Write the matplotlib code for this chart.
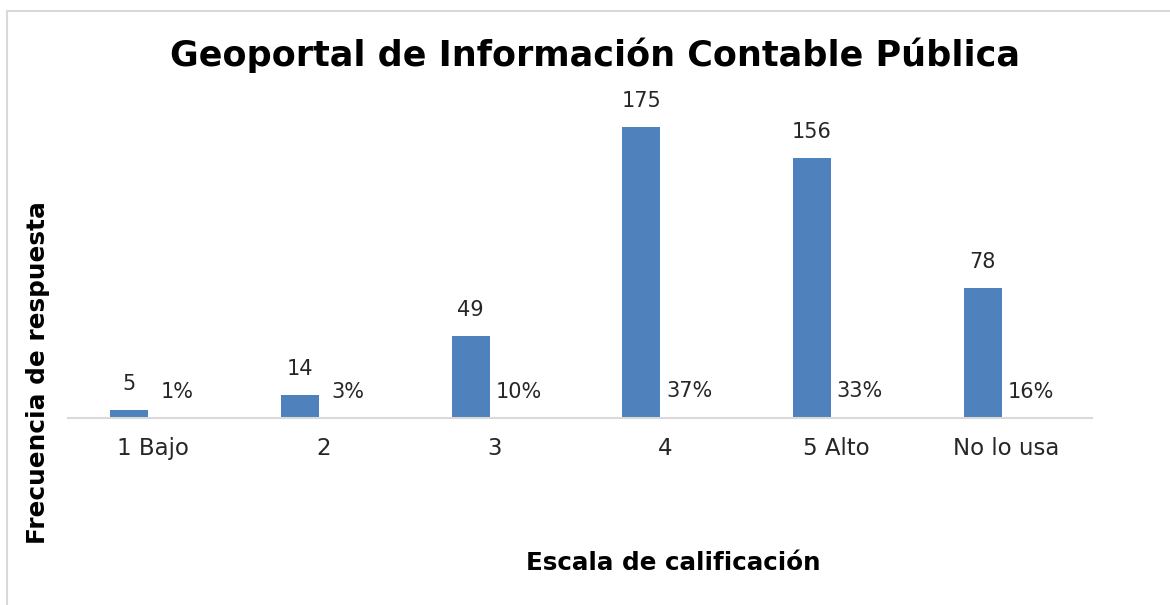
import matplotlib
matplotlib.use('Agg')
import matplotlib.pyplot as plt
from matplotlib.patches import Rectangle
import numpy as np

# chart data
categorias = ['1 Bajo', '2', '3', '4', '5 Alto', 'No lo usa']
frecuencia = [5, 14, 49, 175, 156, 78]
porcentaje = [0.01, 0.03, 0.10, 0.37, 0.33, 0.16]

titulo = 'Geoportal de Información Contable Pública'
etiqueta_x = 'Escala de calificación'
etiqueta_y = 'Frecuencia de respuesta'

plt.rcParams['font.family'] = ['DejaVu Sans']

W, H = 1170, 605
fig = plt.figure(figsize=(W / 100, H / 100), dpi=100)

# outer chart frame
fig.patches.append(Rectangle((7 / W, -0.1), 1.2, (H - 11) / H + 0.1, transform=fig.transFigure,
                             fill=False, edgecolor='#d9d9d9', linewidth=1.5))

# plot area placed in pixels
left, right, bottom_px, top_px = 68, 1092, 418, 85
ax = fig.add_axes([left / W, (H - bottom_px) / H, (right - left) / W, (bottom_px - top_px) / H])

x = np.arange(len(categorias))
ancho = 0.223
desp = 0.14
color = '#4f81bd'

ax.bar(x - desp, frecuencia, width=ancho, color=color, zorder=2)
ax.bar(x + desp, porcentaje, width=ancho, color=color, zorder=2)

for xi, v in zip(x - desp, frecuencia):
    ax.annotate(f'{v}', xy=(xi, v), xytext=(0, 26), textcoords='offset pixels',
                ha='center', va='center', fontsize=15, color='#262626')
for xi, v in zip(x + desp, porcentaje):
    ax.annotate(f'{v:.0%}', xy=(xi, v), xytext=(0, 26), textcoords='offset pixels',
                ha='center', va='center', fontsize=15, color='#262626')

ax.set_xlim(-0.5, len(categorias) - 0.5)
ax.set_ylim(0, 200)
ax.set_xticks(x)
ax.set_xticklabels(categorias, fontsize=16.5, color='#262626')
ax.tick_params(axis='x', length=0, pad=14)
ax.set_yticks([])
for s in ['top', 'right', 'left']:
    ax.spines[s].set_visible(False)
ax.spines['bottom'].set_color('#d9d9d9')
ax.spines['bottom'].set_linewidth(1.5)

fig.text(595 / W, 1 - 55 / H, titulo, ha='center', va='center', fontsize=25.2, fontweight='bold')
fig.text(673 / W, 1 - 563 / H, etiqueta_x, ha='center', va='center', fontsize=17.7, fontweight='bold')
fig.text(38 / W, 1 - 373 / H, etiqueta_y, ha='center', va='center', fontsize=17.8, fontweight='bold',
         rotation=90)

fig.savefig('out.png', dpi=100)
